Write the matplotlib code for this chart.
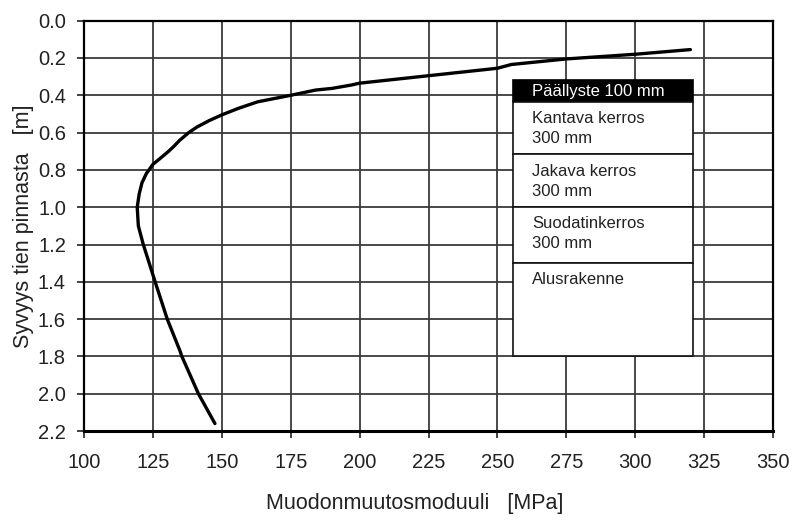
import matplotlib.pyplot as plt
from matplotlib.patches import Rectangle

plt.rcParams['font.family'] = ['Liberation Sans', 'DejaVu Sans']

# Measured deformation modulus against depth below road surface
depth_m = [0.155, 0.18, 0.205, 0.235, 0.255, 0.295, 0.335, 0.345, 0.363, 0.372,
           0.40, 0.435, 0.47, 0.505, 0.535, 0.57, 0.60, 0.64, 0.675, 0.70,
           0.74, 0.77, 0.82, 0.87, 0.93, 1.0, 1.1, 1.2,
           1.4, 1.6, 1.77, 1.8, 2.0, 2.16]
modulus_mpa = [320, 300, 275, 255, 250, 225, 200, 197, 190, 184,
               175, 163, 156, 150, 145.5, 141, 138, 134.8, 132.5, 130.7,
               127.5, 125, 122.6, 121, 120, 119.3, 119.7, 121.5,
               125.8, 130.2, 134.8, 135.5, 141.5, 147.5]

x_ticks = list(range(100, 351, 25))
y_ticks = [0.0, 0.2, 0.4, 0.6, 0.8, 1.0, 1.2, 1.4, 1.6, 1.8, 2.0, 2.2]

# Layer structure shown in the side box
layer_header = "Päällyste 100 mm"
layer_names = ["Kantava kerros\n300 mm", "Jakava kerros\n300 mm",
               "Suodatinkerros\n300 mm", "Alusrakenne"]

fig = plt.figure(figsize=(7.95, 5.21), dpi=100)
ax = fig.add_axes([0.1057, 0.1727, 0.8667, 0.7876])

ax.plot(modulus_mpa, depth_m, color='black', lw=2.4, solid_capstyle='round',
        solid_joinstyle='round', zorder=3)

ax.set_xlim(100, 350)
ax.set_ylim(2.2, 0.0)
ax.set_xticks(x_ticks)
ax.set_yticks(y_ticks)
ax.set_yticklabels([f"{v:.1f}" for v in y_ticks])
ax.tick_params(axis='both', labelsize=14.5, colors='#222222', length=5, width=1.2)
ax.tick_params(axis='x', pad=11)
ax.tick_params(axis='y', pad=8)
ax.grid(True, color='#3a3a3a', lw=1.3)
ax.set_axisbelow(True)
for side in ['left', 'right', 'top']:
    ax.spines[side].set_linewidth(1.6)
ax.spines['bottom'].set_linewidth(2.2)

ax.set_xlabel("Muodonmuutosmoduuli   [MPa]", fontsize=15.5, color='#222222')
ax.xaxis.set_label_coords(0.480, -0.152)
ax.set_ylabel("Syvyys tien pinnasta   [m]", fontsize=15.5, color='#222222')
ax.yaxis.set_label_coords(-0.072, 0.5)

# Layer box: black header followed by stacked white cells
box_left, box_right = 255.6, 320.9
header_top, header_bottom = 0.318, 0.434
cell_edges = [0.434, 0.716, 0.997, 1.298, 1.798]

ax.add_patch(Rectangle((box_left, header_top), box_right - box_left,
                       header_bottom - header_top, facecolor='black',
                       edgecolor='black', lw=1.2, zorder=4))
ax.text(box_left + 7, (header_top + header_bottom) / 2 + 0.005, layer_header,
        color='white', fontsize=12, va='center', ha='left', zorder=5)
for name, top, bottom in zip(layer_names, cell_edges[:-1], cell_edges[1:]):
    ax.add_patch(Rectangle((box_left, top), box_right - box_left, bottom - top,
                           facecolor='white', edgecolor='#111111', lw=1.2, zorder=4))
    ax.text(box_left + 7, top + 0.05, name, color='#222222', fontsize=12,
            va='top', ha='left', linespacing=1.45, zorder=5)

fig.savefig("out.png", dpi=100)
